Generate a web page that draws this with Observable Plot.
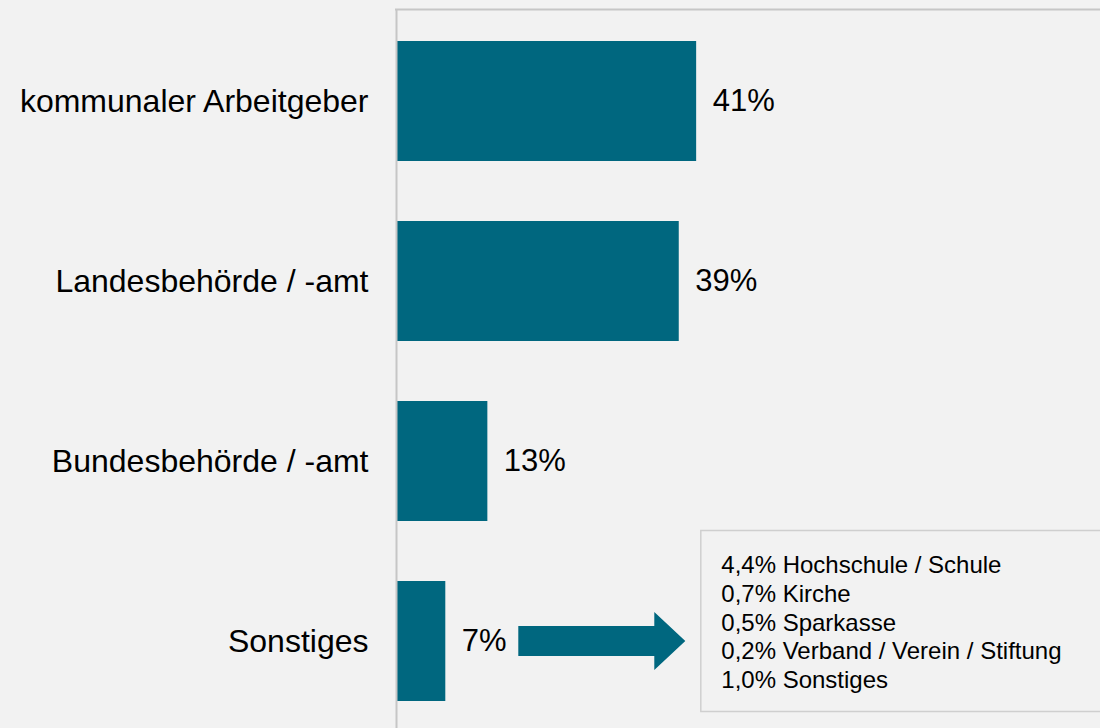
<!DOCTYPE html>
<html>
<head>
<meta charset="utf-8">
<script src="https://cdn.jsdelivr.net/npm/d3@7"></script>
<script src="https://cdn.jsdelivr.net/npm/@observablehq/plot@0.6"></script>
<style>
  html, body { margin: 0; padding: 0; background: #f2f2f2; }
  #chart { width: 1100px; height: 728px; overflow: hidden; }
</style>
</head>
<body>
<div id="chart"></div>
<script>
// Categories and shares (bar lengths; labels as printed)
const categories = ["kommunaler Arbeitgeber", "Landesbehörde / -amt", "Bundesbehörde / -amt", "Sonstiges"];
const shares = [41.4, 39.0, 12.6, 6.8];
const shareLabels = ["41%", "39%", "13%", "7%"];

// Breakdown of "Sonstiges"
const detailLabels = ["Hochschule / Schule", "Kirche", "Sparkasse", "Verband / Verein / Stiftung", "Sonstiges"];
const detailShares = [4.4, 0.7, 0.5, 0.2, 1.0];

const rows = categories.map((c, i) => ({cat: c, value: shares[i], label: shareLabels[i]}));
const fmt = v => v.toFixed(1).replace(".", ",") + "%";

const FONT = "'Liberation Sans', Arial, Helvetica, sans-serif";
const BAR = "#00677f";

const chart = Plot.plot({
  width: 1100,
  height: 728,
  marginLeft: 396,
  marginTop: 9,
  marginRight: 0,
  marginBottom: 0,
  style: {background: "#f2f2f2", fontFamily: FONT, fontSize: "32px", color: "#000", overflow: "visible"},
  x: {axis: null, domain: [0, 100], range: [396, 1121]},
  y: {domain: categories, range: [9, 733], paddingInner: 1/3, paddingOuter: 0.172, label: null, tickSize: 0, tickPadding: 28},
  marks: [
    Plot.barX(rows, {x: "value", y: "cat", fill: BAR}),
    Plot.text(rows, {x: "value", y: "cat", text: "label", dx: 16, textAnchor: "start", fontSize: 31, fill: "#000"}),
    Plot.ruleX([0], {stroke: "#c6c6c6", strokeWidth: 2})
  ]
});

document.getElementById("chart").appendChild(chart);

// Annotation: top frame line, arrow and breakdown box, positioned from the scales
const xs = chart.scale("x"), ys = chart.scale("y");
const svg = d3.select(chart);
const g = svg.append("g");
const x0 = xs.apply(0);
const yTop = 9;
g.append("line").attr("x1", x0 - 1).attr("x2", 1100).attr("y1", yTop + 0.5).attr("y2", yTop + 0.5)
  .attr("stroke", "#c6c6c6").attr("stroke-width", 2);

const last = categories[categories.length - 1];
const xEnd = xs.apply(shares[shares.length - 1]);
const yc = ys.apply(last) + ys.bandwidth / 2;
const a0 = xEnd + 73, ah = xEnd + 209, at = xEnd + 240;
g.append("polygon")
  .attr("points", [[a0, yc - 15], [ah, yc - 15], [ah, yc - 29], [at, yc], [ah, yc + 29], [ah, yc + 15], [a0, yc + 15]].map(p => p.join(",")).join(" "))
  .attr("fill", BAR);

const bx = xEnd + 255, by = yc - 111, bh = 181;
g.append("rect").attr("x", bx + 0.5).attr("y", by + 0.5).attr("width", 420).attr("height", bh)
  .attr("fill", "#f2f2f2").attr("stroke", "#cfcfcf").attr("stroke-width", 1.5);

g.append("g").attr("font-family", FONT).attr("font-size", 24).attr("fill", "#000").attr("text-anchor", "start")
  .selectAll("text").data(detailLabels).join("text")
  .attr("x", bx + 21)
  .attr("y", (d, i) => by + 43 + i * 28.8)
  .text((d, i) => fmt(detailShares[i]) + " " + d);
</script>
</body>
</html>
